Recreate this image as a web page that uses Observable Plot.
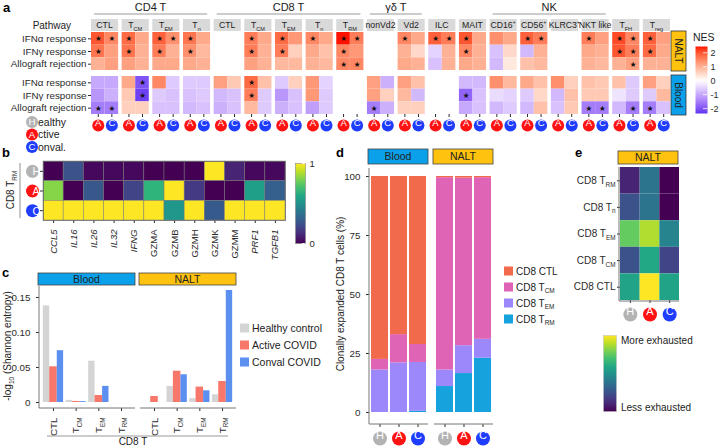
<!DOCTYPE html>
<html><head><meta charset="utf-8">
<script src="https://cdn.jsdelivr.net/npm/d3@7"></script>
<script src="https://cdn.jsdelivr.net/npm/@observablehq/plot@0.6"></script>
<style>
html,body{margin:0;padding:0;background:#fff;}
#fig{position:relative;width:721px;height:446px;overflow:hidden;font-family:"Liberation Sans",Arial,Helvetica,sans-serif;}
#fig svg{position:absolute;}
</style></head><body>
<div id="fig"></div>
<script>
// ================= DATA =================
// Panel a
const cellTypesA = ["CD4 CTL","CD4 TCM","CD4 TEM","CD4 Tn","CD8 CTL","CD8 TCM","CD8 TEM","CD8 Tn","CD8 TRM","nonVd2","Vd2","ILC","MAIT","CD16+","CD56+","KLRC3+","NKT like","TFH","Treg"];
const facetLabelsA = ["CTL","T_CM","T_EM","T_n","CTL","T_CM","T_EM","T_n","T_RM","nonVd2","Vd2","ILC","MAIT","CD16^+","CD56^+","KLRC3^+","NKT like","T_FH","T_reg"];
const lineageGroupsA = [["CD4 T","CD4 CTL","CD4 Tn"],["CD8 T","CD8 CTL","CD8 TRM"],["γδ T","nonVd2","Vd2"],["NK","CD16+","NKT like"]];
const pathways = ["IFNα response","IFNγ response","Allograft rejection"];
const tissuesA = ["NALT","Blood"];
const condsA = ["A","C"];
// NES per cell type: [IFNα, IFNγ, Allograft]; null = not tested
const nesNaltActive = [[2.0,1.7,1.0],[1.8,1.7,1.2],[1.9,1.6,1.1],[1.7,1.4,1.1],null,[1.6,1.6,1.2],[1.8,1.6,0.9],[1.5,1.1,1.0],[2.4,1.5,1.5],null,[1.5,1.0,1.1],[1.9,-0.5,-0.7],[2.0,1.5,1.1],[1.4,-0.7,-0.8],[1.9,-0.8,0.8],null,[1.6,1.1,1.0],[2.1,2.0,1.0],[1.9,1.8,1.0]];
const nesNaltConval = [[1.5,1.2,1.2],[1.1,1.0,1.0],[1.4,1.0,1.1],[1.1,0.9,1.0],null,[1.1,1.0,1.0],[1.3,0.6,0.9],[1.1,0.8,0.9],[1.6,1.3,1.5],null,[1.1,0.5,1.0],[1.6,1.0,1.0],[1.1,1.0,1.0],[1.1,0.5,0.3],[1.6,1.0,0.9],null,[1.2,1.0,0.9],[1.5,1.6,1.2],[1.2,1.1,1.0]];
const nesBloodActive = [[-1.0,-1.2,-1.5],[1.1,0.7,0.6],[1.5,-0.6,-0.7],[-0.6,-0.7,-0.8],[1.2,-0.8,-0.9],[1.8,1.6,0.9],[-0.6,-1.2,-0.9],[1.3,1.3,-1.1],null,[1.2,1.2,-1.5],[1.2,0.9,0.6],null,[-0.8,-1.8,-1.0],[1.4,-0.4,-0.8],[1.1,-0.6,-0.8],[1.4,-0.8,-0.7],[0.8,0.7,-1.5],[0.8,-0.3,-0.8],[1.2,-0.6,-1.5]];
const nesBloodConval = [[-1.0,-0.9,-1.5],[-2.0,-2.2,0.6],[-0.6,-0.7,-0.7],[-0.6,-0.6,-0.7],[0.7,-0.7,-0.7],[0.8,-0.6,-0.6],[0.6,-0.7,-0.7],[-0.5,-0.6,-0.6],null,[-0.9,0.6,-0.9],[0.8,-0.8,0.6],null,[-0.8,-0.7,-0.7],[0.9,-0.5,-0.6],[0.8,0.5,0.8],[0.6,0.8,0.7],[0.7,0.7,-1.5],[-0.6,-0.6,-1.5],[0.6,0.9,-0.7]];
// significant rows (0 = IFNα, 1 = IFNγ, 2 = Allograft)
const sigNaltActive = ["01","01","01","01","","01","01","0","012","","0","0","01","","0","","0","01","01"];
const sigNaltConval = ["0","","0","","","","","","02","","","0","","","0","","","012",""];
const sigBloodActive = ["2","","","","","01","","","","2","","","1","","","","2","","2"];
const sigBloodConval = ["2","01","","","","","","","","","","","","","","","2","2",""];
const nesTicks = [-2,-1,0,1,2];

// Panel b
const genesB = ["CCL5","IL16","IL26","IL32","IFNG","GZMA","GZMB","GZMH","GZMK","GZMM","PRF1","TGFB1"];
const italicGenes = ["CCL5","IL16","IL26","IL32","IFNG","PRF1","TGFB1"];
const condsB = ["H","A","C"];
const exprHealthy = [0.0,0.25,0.02,0.02,0.02,0.0,0.0,0.0,1.0,0.1,0.02,0.02];
const exprActive  = [0.82,0.0,0.27,0.0,0.2,0.65,1.0,0.17,0.0,0.0,0.56,0.3];
const exprConval  = [1.0,1.0,1.0,1.0,1.0,1.0,0.53,1.0,0.28,1.0,1.0,1.0];

// Panel c
const tissuesC = ["Blood","NALT"];
const subsetsC = ["CTL","TCM","TEM","TRM"];
const subsetLabelsC = ["CTL","T_CM","T_EM","T_RM"];
const groupsC = ["H","A","C"];
const groupNamesC = ["Healthy control","Active COVID","Conval COVID"];
const groupColorsC = ["#d4d4d4","#f7786b","#5b8ff0"];
const entropyBloodHealthy = [0.138,0.003,0.059,0.0];
const entropyBloodActive  = [0.051,0.0015,0.010,0.0];
const entropyBloodConval  = [0.074,0.0012,0.023,0.0];
const entropyNaltHealthy  = [0.0,0.023,0.0055,0.011];
const entropyNaltActive   = [0.0086,0.0447,0.022,0.030];
const entropyNaltConval   = [0.0,0.0396,0.0167,0.160];
const entropyTicks = [0,0.05,0.10,0.15];

// Panel d
const tissuesD = ["Blood","NALT"];
const condsD = ["H","A","C"];
const subsetsD = ["CD8 CTL","CD8 T_CM","CD8 T_EM","CD8 T_RM"];
const subsetColorsD = ["#f26a4c","#e064b6","#9c87fb","#15a2dd"];
// order: Blood H, A, C, NALT H, A, C
const clonalCTL = [77.5,67.0,71.2,0.5,0.7,0.5];
const clonalTCM = [4.5,12.0,7.6,81.5,71.0,68.5];
const clonalTEM = [18.0,21.0,20.7,7.0,11.8,8.0];
const clonalTRM = [0.0,0.0,0.5,11.0,16.5,23.0];
const pctTicks = [0,25,50,75,100];

// Panel e
const subsetsE = ["CD8 T_RM","CD8 T_n","CD8 T_EM","CD8 T_CM","CD8 CTL"];
const condsE = ["H","A","C"];
const exhaustHealthy = [0.1,0.25,0.76,0.25,0.58];
const exhaustActive  = [0.38,0.38,0.88,0.6,1.0];
const exhaustConval  = [0.0,0.0,0.45,0.2,0.58];

// ================= HELPERS =================
const FONT = "'Liberation Sans', Arial, Helvetica, sans-serif";
const fig = d3.select("#fig");
const baseStyle = {fontFamily: FONT, fontSize: "10px", color: "#2b2b2b", background: "transparent", overflow: "visible"};
const badgeFill = {H: "#b3b3b3", A: "#ff1212", C: "#1f3dff"};
const stripFill = {NALT: "#ffc20e", Blood: "#0aa1ea"};

function place(node, left, top) {
  node.style.position = "absolute"; node.style.left = left + "px"; node.style.top = top + "px"; node.style.maxWidth = "none";
  fig.node().appendChild(node); return node;
}
function rich(sel, label) {
  const m = /^(.*?)([_^])(.+)$/.exec(label);
  sel.text(null);
  if (!m) { sel.text(label); return sel; }
  sel.append("tspan").text(m[1]);
  sel.append("tspan").attr("font-size", "0.64em").attr("dy", m[2] === "_" ? "0.45em" : "-0.75em").text(m[3]);
  return sel;
}
function richify(node) {
  d3.select(node).selectAll("text").each(function () {
    if (this.childElementCount === 0 && /[_^]/.test(this.textContent)) rich(d3.select(this), this.textContent);
  });
}

// gradient defs
const defsSvg = fig.append("svg").attr("width", 1).attr("height", 1).style("left", "0px").style("top", "0px");
const defs = defsSvg.append("defs");
function addGrad(id, stops) {
  const g = defs.append("linearGradient").attr("id", id).attr("x1", 0).attr("y1", 1).attr("x2", 0).attr("y2", 0);
  stops.forEach(([o, c]) => g.append("stop").attr("offset", o).attr("stop-color", c));
}
addGrad("viridisGrad", d3.range(0, 1.0001, 0.1).map(t => [t, d3.interpolateViridis(t)]));

// ================= PANEL a =================
const nesRows = [];
[["NALT","A",nesNaltActive,sigNaltActive],["NALT","C",nesNaltConval,sigNaltConval],["Blood","A",nesBloodActive,sigBloodActive],["Blood","C",nesBloodConval,sigBloodConval]]
  .forEach(([tissue, cond, vals, sig]) => cellTypesA.forEach((ct, i) => {
    if (!vals[i]) return;
    pathways.forEach((p, j) => nesRows.push({tissue, cond, cellType: ct, pathway: p, nes: vals[i][j], sig: sig[i].includes(String(j))}));
  }));
const badgesA = cellTypesA.flatMap(ct => condsA.map(c => ({cellType: ct, cond: c, tissue: "Blood"})));

const plotA = Plot.plot({
  width: 721, height: 135, marginTop: 32, marginRight: 51, marginBottom: 21, marginLeft: 91,
  style: {...baseStyle, fontSize: "9.8px"},
  fx: {domain: cellTypesA, paddingInner: 0.115, paddingOuter: 0, round: false, axis: null},
  fy: {domain: tissuesA, paddingInner: 0.136, paddingOuter: 0, round: false, axis: null},
  x: {domain: condsA, padding: 0, round: false, tickSize: 3, tickFormat: () => "", label: null},
  y: {domain: pathways, padding: 0, round: false, axis: null},
  color: {type: "linear", domain: [-2.4, 0, 2.4], range: ["#5a2ff0", "#ffffff", "#ff1200"], interpolate: "lab", clamp: true},
  marks: [
    Plot.axisY({facetAnchor: "left", tickSize: 3, tickPadding: 2, label: null}),
    Plot.cell(nesRows, {x: "cond", y: "pathway", fx: "cellType", fy: "tissue", fill: "nes", inset: 0}),
    Plot.text(nesRows.filter(d => d.sig), {x: "cond", y: "pathway", fx: "cellType", fy: "tissue", text: () => "★", fontSize: 7.5, fontFamily: "DejaVu Sans", fill: "#111"}),
    ...condsA.map(c => Plot.dot(badgesA.filter(d => d.cond === c), {x: "cond", fx: "cellType", fy: "tissue", frameAnchor: "bottom", dy: 11, r: 6, fill: badgeFill[c]})),
    Plot.text(badgesA, {x: "cond", fx: "cellType", fy: "tissue", frameAnchor: "bottom", dy: 11.5, text: "cond", fill: "white", fontSize: 9.5})
  ]
});
place(plotA, 0, 0);
const colA = plotA.scale("color");
const nesLo = -2.35, nesHi = 2.45;
addGrad("nesGrad", d3.range(0, 1.0001, 0.05).map(t => [t, colA.apply(nesLo + t * (nesHi - nesLo))]));

const plotALeg = Plot.plot({
  width: 31, height: 80, marginTop: 6, marginBottom: 7, marginLeft: 5, marginRight: 14,
  style: {...baseStyle, fontSize: "9px"},
  y: {domain: [nesLo, nesHi], ticks: nesTicks, tickFormat: d => String(d), tickSize: 0, tickPadding: 3, axis: "right", label: null},
  marks: [Plot.frame({fill: "url(#nesGrad)", stroke: "none"}), Plot.ruleY(nesTicks, {stroke: "white", strokeWidth: 0.8, insetLeft: 8})]
});
place(plotALeg, 690, 40);

// ================= PANEL b =================
const exprRows = [];
[["H", exprHealthy], ["A", exprActive], ["C", exprConval]].forEach(([c, vals]) => genesB.forEach((g, i) => exprRows.push({cond: c, gene: g, value: vals[i]})));
const plotB = Plot.plot({
  width: 290, height: 110, marginTop: 11, marginRight: 5, marginBottom: 40, marginLeft: 43,
  style: {...baseStyle, fontSize: "9.5px"},
  x: {domain: genesB, padding: 0, round: false, tickRotate: -90, tickSize: 3, label: null},
  y: {domain: condsB, padding: 0, round: false, tickSize: 3, tickFormat: () => "", label: null},
  color: {type: "linear", scheme: "viridis", domain: [0, 1]},
  marks: [
    Plot.cell(exprRows, {x: "gene", y: "cond", fill: "value", inset: 0, stroke: "#777", strokeWidth: 0.5}),
    Plot.frame({stroke: "#666", strokeWidth: 0.8}),
    ...condsB.map(c => Plot.dot([c], {y: d => d, frameAnchor: "left", dx: -11, r: 6.5, fill: badgeFill[c]})),
    Plot.text(condsB, {y: d => d, frameAnchor: "left", dx: -11, dy: 0.5, text: d => d, fill: "white", fontSize: 10.5})
  ]
});
d3.select(plotB).selectAll("text").each(function () { if (italicGenes.includes(this.textContent)) d3.select(this).attr("font-style", "italic"); });
place(plotB, 0, 150);

const plotBLeg = Plot.plot({
  width: 40, height: 95, marginTop: 8, marginBottom: 7, marginLeft: 5, marginRight: 25,
  style: {...baseStyle, fontSize: "9.5px"},
  y: {domain: [0, 1], ticks: [0, 1], tickFormat: d => String(d), tickSize: 0, tickPadding: 4, axis: "right", label: null},
  marks: [Plot.frame({fill: "url(#viridisGrad)", stroke: "#888", strokeWidth: 0.6}), Plot.ruleY([0, 1], {stroke: "white", strokeWidth: 0.8, insetLeft: 7})]
});
place(plotBLeg, 290, 155);

// ================= PANEL c =================
const entropyRows = [];
[["Blood", [entropyBloodHealthy, entropyBloodActive, entropyBloodConval]], ["NALT", [entropyNaltHealthy, entropyNaltActive, entropyNaltConval]]]
  .forEach(([t, arrs]) => groupsC.forEach((g, gi) => subsetsC.forEach((s, si) => entropyRows.push({tissue: t, group: g, key: s + "|" + g, value: arrs[gi][si]}))));
const keysC = subsetsC.flatMap(s => groupsC.map(g => s + "|" + g));
const midKeysC = subsetsC.map(s => s + "|A");
const C_LEFT = 0, C_TOP = 270, C_W = 240, C_H = 176, C_M = {top: 16, right: 4, bottom: 38, left: 39};
const plotC = Plot.plot({
  width: C_W, height: C_H, marginTop: C_M.top, marginRight: C_M.right, marginBottom: C_M.bottom, marginLeft: C_M.left,
  style: {...baseStyle, fontSize: "9.8px"},
  fx: {domain: tissuesC, paddingInner: 0.0495, paddingOuter: 0, round: false, axis: null},
  x: {domain: keysC, paddingInner: 0, paddingOuter: 0.35, round: false, ticks: midKeysC,
      tickFormat: k => k.endsWith("|A") ? subsetLabelsC[subsetsC.indexOf(k.split("|")[0])] : "", tickRotate: -90, tickSize: 3, label: null},
  y: {domain: [0, 0.1657], insetBottom: 6, ticks: entropyTicks, tickFormat: d => d === 0 ? "0" : d.toFixed(2), tickSize: 3, label: null},
  marks: groupsC.map((g, gi) => Plot.barY(entropyRows.filter(d => d.group === g), {
    fx: "tissue", x: "key", y: "value", fill: groupColorsC[gi],
    insetLeft: gi === 0 ? 1.2 : 0, insetRight: gi === 2 ? 1.2 : 0
  }))
});
richify(plotC);
place(plotC, C_LEFT, C_TOP);

// ================= PANEL d =================
const clonalRows = [];
[["CD8 T_RM", clonalTRM], ["CD8 T_EM", clonalTEM], ["CD8 T_CM", clonalTCM], ["CD8 CTL", clonalCTL]].forEach(([s, arr]) =>
  tissuesD.forEach((t, ti) => condsD.forEach((c, ci) => clonalRows.push({subset: s, tissue: t, cond: c, pct: arr[ti * 3 + ci]}))));
const badgesD = tissuesD.flatMap(t => condsD.map(c => ({tissue: t, cond: c})));
const D_LEFT = 330, D_TOP = 140, D_W = 180, D_H = 306, D_M = {top: 28, right: 17, bottom: 22, left: 39};
const plotD = Plot.plot({
  width: D_W, height: D_H, marginTop: D_M.top, marginRight: D_M.right, marginBottom: D_M.bottom, marginLeft: D_M.left,
  style: {...baseStyle, fontSize: "9.8px"},
  fx: {domain: tissuesD, paddingInner: 0.092, paddingOuter: 0, round: false, axis: null},
  x: {domain: condsD, padding: 0.105, round: false, tickSize: 3, tickFormat: () => "", label: null},
  y: {domain: [0, 100], insetTop: 8, insetBottom: 12, ticks: pctTicks, tickSize: 3, label: null},
  color: {domain: subsetsD, range: subsetColorsD},
  marks: [
    Plot.barY(clonalRows, {fx: "tissue", x: "cond", y: "pct", fill: "subset"}),
    ...condsD.map(c => Plot.dot(badgesD.filter(d => d.cond === c), {fx: "tissue", x: "cond", frameAnchor: "bottom", dy: 14, r: 7, fill: badgeFill[c]})),
    Plot.text(badgesD, {fx: "tissue", x: "cond", frameAnchor: "bottom", dy: 14.5, text: "cond", fill: "white", fontSize: 11})
  ]
});
place(plotD, D_LEFT, D_TOP);

// ================= PANEL e =================
const exhaustRows = [];
[["H", exhaustHealthy], ["A", exhaustActive], ["C", exhaustConval]].forEach(([c, arr]) => subsetsE.forEach((s, i) => exhaustRows.push({cond: c, subset: s, value: arr[i]})));
const E_LEFT = 540, E_TOP = 150, E_W = 181, E_H = 175, E_M = {top: 17, right: 42, bottom: 25, left: 80};
const plotE = Plot.plot({
  width: E_W, height: E_H, marginTop: E_M.top, marginRight: E_M.right, marginBottom: E_M.bottom, marginLeft: E_M.left,
  style: {...baseStyle, fontSize: "10px"},
  x: {domain: condsE, padding: 0, round: false, tickSize: 3, tickFormat: () => "", label: null},
  y: {domain: subsetsE, padding: 0, round: false, tickSize: 3, tickPadding: 2, label: null},
  color: {type: "linear", scheme: "viridis", domain: [0, 1]},
  marks: [
    Plot.cell(exhaustRows, {x: "cond", y: "subset", fill: "value", inset: 0}),
    ...condsE.map(c => Plot.dot([c], {x: d => d, frameAnchor: "bottom", dy: 14, r: 7, fill: badgeFill[c]})),
    Plot.text(condsE, {x: d => d, frameAnchor: "bottom", dy: 14.5, text: d => d, fill: "white", fontSize: 11})
  ]
});
richify(plotE);
place(plotE, E_LEFT, E_TOP);

const plotELeg = Plot.plot({
  width: 30, height: 90, marginTop: 5, marginBottom: 9, marginLeft: 8, marginRight: 9,
  style: baseStyle,
  marks: [Plot.frame({fill: "url(#viridisGrad)", stroke: "#bbb", strokeWidth: 0.5})]
});
place(plotELeg, 595, 330);

// ================= OVERLAY (strips, headers, legends) =================
const ov = fig.append("svg").attr("width", 721).attr("height", 446).style("left", "0px").style("top", "0px")
  .style("font-family", FONT).attr("fill", "#222");
function line(x1, y1, x2, y2, color = "#777", w = 1) {
  ov.append("line").attr("x1", x1).attr("y1", y1).attr("x2", x2).attr("y2", y2).attr("stroke", color).attr("stroke-width", w);
}
function strip(x, y, w, h, label) {
  ov.append("rect").attr("x", x).attr("y", y).attr("width", w).attr("height", h).attr("fill", stripFill[label]).attr("stroke", "#444").attr("stroke-width", 0.8);
  ov.append("text").attr("x", x + w / 2).attr("y", y + h / 2).attr("dy", "0.36em").attr("text-anchor", "middle").attr("font-size", 10.5).text(label);
}
function txt(x, y, s, opts = {}) {
  const t = ov.append("text").attr("x", x).attr("y", y).attr("font-size", opts.size || 10).attr("text-anchor", opts.anchor || "start");
  if (opts.dy) t.attr("dy", opts.dy);
  if (opts.weight) t.attr("font-weight", opts.weight);
  if (opts.fill) t.attr("fill", opts.fill);
  if (opts.transform) t.attr("transform", opts.transform);
  return rich(t, s);
}
function badge(x, y, c, r) {
  ov.append("circle").attr("cx", x).attr("cy", y).attr("r", r).attr("fill", badgeFill[c]);
  txt(x, y, c, {anchor: "middle", dy: "0.36em", fill: "white", size: r * 1.6});
}

// panel letters
[["a", 3, 12], ["b", 2, 157], ["c", 2, 277], ["d", 336, 157], ["e", 575, 157]].forEach(([l, x, y]) => txt(x, y, l, {size: 13, weight: "bold", fill: "#000"}));

// --- panel a headers
const fxA = plotA.scale("fx"), fyA = plotA.scale("fy");
const bwA = fxA.bandwidth, fybA = fyA.bandwidth;
const naltTop = fyA.apply("NALT");
lineageGroupsA.forEach(([label, from, to]) => {
  const x0 = fxA.apply(from) + 3, x1 = fxA.apply(to) + bwA - 3;
  line(x0, 14, x1, 14, "#9a9a9a", 1);
  txt((x0 + x1) / 2, 10.5, label, {anchor: "middle", size: 11});
});
cellTypesA.forEach((ct, i) => {
  const x = fxA.apply(ct);
  ov.append("rect").attr("x", x).attr("y", naltTop - 13).attr("width", bwA).attr("height", 12).attr("fill", "#d9d9d9");
  txt(x + bwA / 2, naltTop - 4, facetLabelsA[i], {anchor: "middle", size: 8.7});
});
txt(71, 29, "Pathway", {anchor: "end", size: 10});
const stripXA = fxA.apply("Treg") + bwA + 1;
tissuesA.forEach(t => {
  const y0 = fyA.apply(t);
  ov.append("rect").attr("x", stripXA).attr("y", y0 - 1).attr("width", 15).attr("height", fybA + 2).attr("fill", stripFill[t]).attr("stroke", "#333").attr("stroke-width", 0.8);
  txt(0, 0, t, {anchor: "middle", size: 10, dy: "0.36em", transform: `translate(${stripXA + 7.5},${y0 + fybA / 2}) rotate(90)`});
});
txt(693, 41, "NES", {size: 10.5});
[["H", "ealthy", 122], ["A", "ctive", 134.5], ["C", "onval.", 147]].forEach(([c, rest, y]) => {
  badge(32, y, c, 6);
  txt(38, y, rest, {dy: "0.36em", size: 10.5});
});

// --- panel b
txt(0, 0, "CD8 T_RM", {anchor: "middle", size: 10, transform: "translate(14,190) rotate(-90)"});
line(20, 163, 20, 218, "#777", 0.8);

// --- panel c
const fxC = plotC.scale("fx");
const cTop = C_TOP + C_M.top, cBot = C_TOP + C_H - C_M.bottom;
tissuesC.forEach(t => {
  const x0 = C_LEFT + fxC.apply(t), w = fxC.bandwidth;
  strip(x0 - 1, cTop - 13, w + 1, 12, t);
  line(x0, cBot, x0 + w, cBot);
});
line(C_LEFT + fxC.apply("Blood"), cTop, C_LEFT + fxC.apply("Blood"), cBot);
{
  const t = ov.append("text").attr("transform", "translate(11,346) rotate(-90)").attr("text-anchor", "middle").attr("font-size", 10);
  t.append("tspan").text("-log");
  t.append("tspan").attr("font-size", "0.65em").attr("dy", "0.45em").text("10");
  t.append("tspan").attr("dy", "-0.3em").text(" (Shannon entropy)");
}
line(C_LEFT + fxC.apply("Blood") + 8, 436, C_LEFT + fxC.apply("NALT") + fxC.bandwidth - 8, 436, "#999", 1);
txt(133, 445, "CD8 T", {anchor: "middle", size: 10});
groupNamesC.forEach((name, i) => {
  const y = 328 + i * 17;
  ov.append("rect").attr("x", 240).attr("y", y - 4.5).attr("width", 9).attr("height", 9).attr("fill", groupColorsC[i]);
  txt(252, y, name, {dy: "0.36em", size: 10.5});
});

// --- panel d
const fxD = plotD.scale("fx");
const dTop = D_TOP + D_M.top, dBot = D_TOP + D_H - D_M.bottom;
tissuesD.forEach(t => {
  const x0 = D_LEFT + fxD.apply(t), w = fxD.bandwidth;
  strip(x0 - 1, D_TOP + 9, w + 1, 15, t);
  line(x0, dBot, x0 + w, dBot);
});
line(D_LEFT + fxD.apply("Blood"), dTop, D_LEFT + fxD.apply("Blood"), dBot);
txt(0, 0, "Clonally expanded CD8 T cells (%)", {anchor: "middle", size: 10, transform: "translate(344,294) rotate(-90)"});
subsetsD.forEach((s, i) => {
  const y = 271 + i * 16;
  ov.append("rect").attr("x", 504).attr("y", y - 4.5).attr("width", 9).attr("height", 9).attr("fill", subsetColorsD[i]);
  txt(516, y, s, {dy: "0.36em", size: 10});
});

// --- panel e
const eX0 = E_LEFT + E_M.left, eX1 = E_LEFT + E_W - E_M.right, eY0 = E_TOP + E_M.top, eY1 = E_TOP + E_H - E_M.bottom;
strip(eX0 - 2, E_TOP + 1, eX1 - eX0 + 1, 13, "NALT");
line(eX0 - 1, eY0, eX0 - 1, eY1 + 1);
line(eX0 - 1, eY1 + 1, eX1, eY1 + 1);
txt(621, 340, "More exhausted", {dy: "0.36em", size: 10});
txt(621, 407, "Less exhausted", {dy: "0.36em", size: 10});
</script>
</body></html>
